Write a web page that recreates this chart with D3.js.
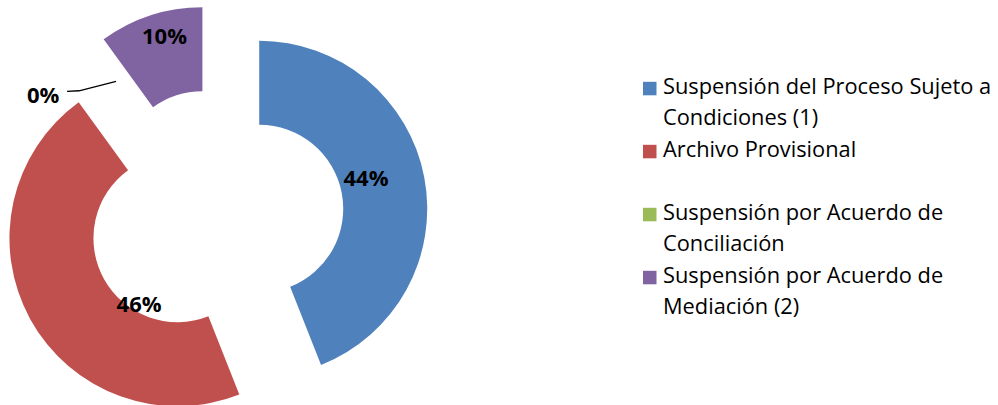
<!DOCTYPE html>
<html>
<head>
<meta charset="utf-8">
<script src="https://cdn.jsdelivr.net/npm/d3@7"></script>
<style>
  html, body { margin: 0; padding: 0; background: #fff; }
  svg { display: block; }
</style>
</head>
<body>
<svg id="chart" width="998" height="405"></svg>
<script>
// ---- data ----
const categories = [
  "Suspensión del Proceso Sujeto a Condiciones (1)",
  "Archivo Provisional",
  "Suspensión por Acuerdo de Conciliación",
  "Suspensión por Acuerdo de Mediación (2)"
];
const values = [44, 46, 0, 10];
const colors = ["#4F81BD", "#C0504D", "#9BBB59", "#8064A2"];

// ---- layout ----
const W = 998, H = 405;
const cx = 216, cy = 217;
const outerR = 168, innerR = 84, explode = 44;
const midR = (outerR + innerR) / 2;
// per-slice label nudges relative to the ring midpoint (Excel placement)
const labelNudge = [[-17, -8], [72, 4], [-73, 15], [1, -20]];

const svg = d3.select("#chart");
svg.append("rect").attr("width", W).attr("height", H).attr("fill", "#fff");

const total = d3.sum(values);
const pie = d3.pie().sort(null).value(d => d)(values);
const arc = d3.arc().innerRadius(innerR).outerRadius(outerR);
const fmt = v => Math.round(v / total * 100) + "%";

const g = svg.append("g").attr("transform", `translate(${cx},${cy})`);

function offset(d) {
  const a = (d.startAngle + d.endAngle) / 2;
  return [explode * Math.sin(a), -explode * Math.cos(a)];
}
function ringPoint(d) {
  const a = (d.startAngle + d.endAngle) / 2;
  const o = offset(d);
  return [o[0] + midR * Math.sin(a), o[1] - midR * Math.cos(a)];
}

g.selectAll("path.slice").data(pie).enter().append("path")
  .attr("class", "slice")
  .attr("d", arc)
  .attr("fill", (d, i) => colors[i])
  .attr("transform", d => { const o = offset(d); return `translate(${o[0]},${o[1]})`; });

// labels
pie.forEach((d, i) => {
  const p = ringPoint(d);
  const lx = p[0] + labelNudge[i][0], ly = p[1] + labelNudge[i][1];
  if (d.value === 0) {
    const line = d3.line();
    g.append("path")
      .attr("d", line([[p[0], p[1] + 2], [lx + 36, ly - 3.7], [lx + 24, ly - 3]]))
      .attr("fill", "none").attr("stroke", "#000").attr("stroke-width", 1.3);
  }
  g.append("text")
    .attr("x", lx).attr("y", ly)
    .attr("text-anchor", "middle")
    .attr("dominant-baseline", "central")
    .attr("font-family", "'Open Sans', 'Noto Sans', sans-serif")
    .attr("font-weight", "bold")
    .attr("font-size", 22)
    .attr("fill", "#000")
    .text(fmt(d.value));
});

// legend
const legX = 643, legTextX = 663, legY0 = 93.5, legStep = 63, lineH = 31, maxW = 336;
const leg = svg.append("g");
categories.forEach((c, i) => {
  const by = legY0 + i * legStep;
  leg.append("rect").attr("x", legX).attr("y", by - 11.7).attr("width", 13.5).attr("height", 13.5)
    .attr("fill", colors[i]);
  const t = leg.append("text")
    .attr("x", legTextX).attr("y", by)
    .attr("font-family", "'Open Sans', 'Noto Sans', sans-serif")
    .attr("font-size", 21.8)
    .attr("fill", "#000");
  const words = c.split(" ");
  let line = [], lineNo = 0;
  let ts = t.append("tspan").attr("x", legTextX).attr("y", by);
  words.forEach(w => {
    line.push(w);
    ts.text(line.join(" "));
    if (ts.node().getComputedTextLength() > maxW && line.length > 1) {
      line.pop();
      ts.text(line.join(" "));
      line = [w];
      lineNo++;
      ts = t.append("tspan").attr("x", legTextX).attr("y", by + lineNo * lineH).text(w);
    }
  });
});
</script>
</body>
</html>
